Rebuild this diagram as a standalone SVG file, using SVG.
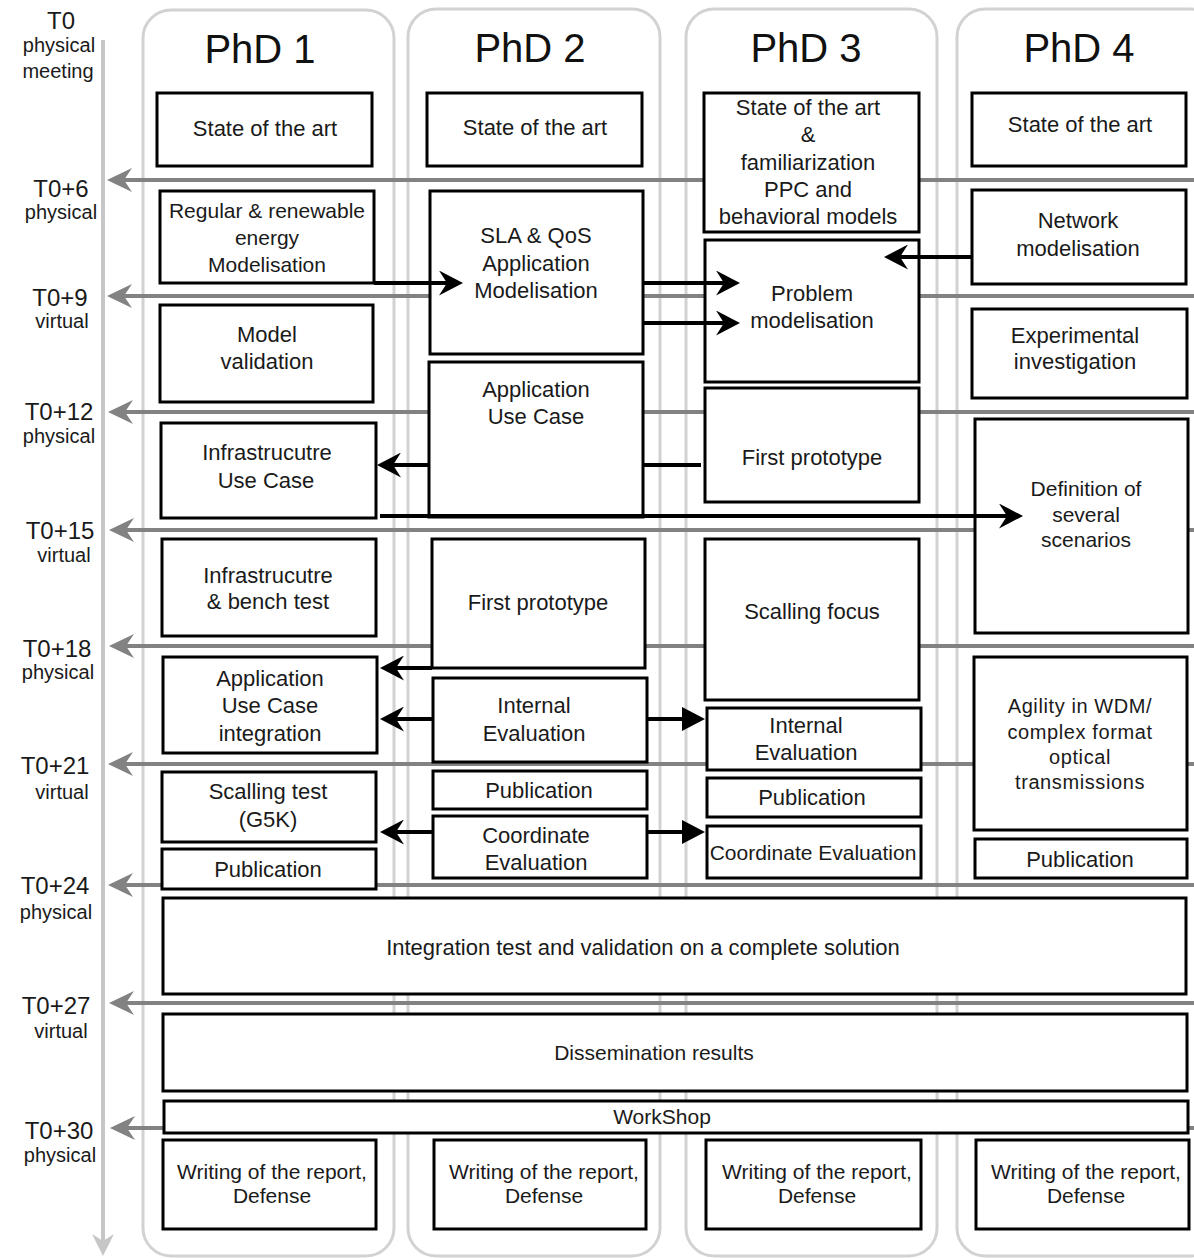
<svg xmlns="http://www.w3.org/2000/svg" width="1194" height="1258" viewBox="0 0 1194 1258">
<defs>
<style>
.col{fill:none;stroke:#d2d2d2;stroke-width:3}
.box{fill:#fff;stroke:#000;stroke-width:3}
.gl{fill:none;stroke:#828282;stroke-width:4}
.tlv{fill:none;stroke:#c6c6c6;stroke-width:4}
.bl{fill:none;stroke:#000;stroke-width:4}
text{font-family:"Liberation Sans",Arial,sans-serif;fill:#1a1a1a;text-anchor:middle}
.t{font-size:22px}
.ts{font-size:21px}
.hv{font-size:21px}
.ag{font-size:20px;letter-spacing:0.6px}
.h{font-size:40px;fill:#111}
.lt{font-size:24px}
.ls{font-size:20px}
</style>
<marker id="mg" markerUnits="userSpaceOnUse" markerWidth="25" markerHeight="24" viewBox="0 0 25 24" refX="15" refY="12" orient="auto"><path d="M0,0 L25,12 L0,24 L8,12 Z" fill="#828282"/></marker>
<marker id="ml" markerUnits="userSpaceOnUse" markerWidth="22" markerHeight="22" viewBox="0 0 22 22" refX="12" refY="11" orient="auto"><path d="M0,0 L22,11 L0,22 L7,11 Z" fill="#c6c6c6"/></marker>
<marker id="mb" markerUnits="userSpaceOnUse" markerWidth="24" markerHeight="25" viewBox="0 0 24 25" refX="14" refY="12.5" orient="auto"><path d="M0,0 L24,12.5 L0,25 L8,12.5 Z" fill="#000"/></marker>
<marker id="mk" markerUnits="userSpaceOnUse" markerWidth="23" markerHeight="24" viewBox="0 0 23 24" refX="13" refY="12" orient="auto"><path d="M0,0 L23,12 L0,24 Z" fill="#000"/></marker>
</defs>
<rect width="1194" height="1258" fill="#fff"/>

<g id="columns">
<rect class="col" x="143" y="10" width="251" height="1246" rx="28"/>
<rect class="col" x="408" y="9" width="252" height="1247" rx="28"/>
<rect class="col" x="686" y="9" width="251" height="1247" rx="28"/>
<rect class="col" x="957" y="9" width="262" height="1247" rx="28"/>
<text class="h" x="260" y="63">PhD 1</text>
<text class="h" x="530" y="62">PhD 2</text>
<text class="h" x="806" y="62">PhD 3</text>
<text class="h" x="1079" y="62">PhD 4</text>
</g>

<g id="timeline">
<path class="tlv" d="M103,40 V1246" marker-end="url(#ml)"/>
<text class="lt" x="61" y="29">T0</text>
<text class="ls" x="59" y="52">physical</text>
<text class="ls" x="58" y="78">meeting</text>
<text class="lt" x="61" y="197">T0+6</text>
<text class="ls" x="61" y="219">physical</text>
<text class="lt" x="60" y="306">T0+9</text>
<text class="ls" x="62" y="328">virtual</text>
<text class="lt" x="59" y="420">T0+12</text>
<text class="ls" x="59" y="443">physical</text>
<text class="lt" x="60" y="539">T0+15</text>
<text class="ls" x="64" y="562">virtual</text>
<text class="lt" x="57" y="657">T0+18</text>
<text class="ls" x="58" y="679">physical</text>
<text class="lt" x="55" y="774">T0+21</text>
<text class="ls" x="62" y="799">virtual</text>
<text class="lt" x="55" y="894">T0+24</text>
<text class="ls" x="56" y="919">physical</text>
<text class="lt" x="56" y="1014">T0+27</text>
<text class="ls" x="61" y="1038">virtual</text>
<text class="lt" x="59" y="1139">T0+30</text>
<text class="ls" x="60" y="1162">physical</text>
</g>

<g id="meetings">
<path class="gl" d="M1194,180 H117" marker-end="url(#mg)"/>
<path class="gl" d="M1194,296 H117" marker-end="url(#mg)"/>
<path class="gl" d="M1194,412 H118" marker-end="url(#mg)"/>
<path class="gl" d="M1194,530 H119" marker-end="url(#mg)"/>
<path class="gl" d="M1194,646 H119" marker-end="url(#mg)"/>
<path class="gl" d="M1194,764 H118" marker-end="url(#mg)"/>
<path class="gl" d="M1194,885 H118" marker-end="url(#mg)"/>
<path class="gl" d="M1194,1003 H119" marker-end="url(#mg)"/>
<path class="gl" d="M1194,1128 H120" marker-end="url(#mg)"/>
</g>

<g id="phd1-sota"><rect class="box" x="157" y="93" width="215" height="73"/><text class="t" x="265" y="136">State of the art</text></g>
<g id="phd1-energy"><rect class="box" x="160" y="191" width="214" height="92"/><text class="ts" x="267"><tspan x="267" y="218">Regular &amp; renewable</tspan><tspan x="267" y="245">energy</tspan><tspan x="267" y="272">Modelisation</tspan></text></g>
<g id="phd1-validation"><rect class="box" x="160" y="305" width="213" height="97"/><text class="t"><tspan x="267" y="342">Model</tspan><tspan x="267" y="369">validation</tspan></text></g>
<g id="phd1-infra-usecase"><rect class="box" x="161" y="423" width="215" height="95"/><text class="t"><tspan x="267" y="460">Infrastrucutre</tspan><tspan x="266" y="488">Use Case</tspan></text></g>
<g id="phd1-bench"><rect class="box" x="162" y="539" width="214" height="97"/><text class="t"><tspan x="268" y="583">Infrastrucutre</tspan><tspan x="268" y="609">&amp; bench test</tspan></text></g>
<g id="phd1-integration"><rect class="box" x="163" y="657" width="214" height="96"/><text class="t"><tspan x="270" y="686">Application</tspan><tspan x="270" y="713">Use Case</tspan><tspan x="270" y="741">integration</tspan></text></g>
<g id="phd1-scaling"><rect class="box" x="162" y="772" width="214" height="70"/><text class="t"><tspan x="268" y="799">Scalling test</tspan><tspan x="268" y="827">(G5K)</tspan></text></g>
<g id="phd1-pub"><rect class="box" x="162" y="849" width="214" height="40"/><text class="t" x="268" y="877">Publication</text></g>

<g id="phd2-sota"><rect class="box" x="427" y="93" width="215" height="73"/><text class="t" x="535" y="135">State of the art</text></g>
<g id="phd2-sla"><rect class="box" x="430" y="191" width="213" height="163"/><text class="t"><tspan x="536" y="243">SLA &amp; QoS</tspan><tspan x="536" y="271">Application</tspan><tspan x="536" y="298">Modelisation</tspan></text></g>
<g id="phd2-usecase"><rect class="box" x="429" y="362" width="214" height="155"/><text class="t"><tspan x="536" y="397">Application</tspan><tspan x="536" y="424">Use Case</tspan></text></g>
<g id="phd2-proto"><rect class="box" x="432" y="539" width="213" height="129"/><text class="t" x="538" y="610">First prototype</text></g>
<g id="phd2-internal"><rect class="box" x="433" y="678" width="214" height="84"/><text class="t"><tspan x="534" y="713">Internal</tspan><tspan x="534" y="741">Evaluation</tspan></text></g>
<g id="phd2-pub"><rect class="box" x="433" y="771" width="214" height="38"/><text class="t" x="539" y="798">Publication</text></g>
<g id="phd2-coord"><rect class="box" x="433" y="816" width="214" height="62"/><text class="t"><tspan x="536" y="843">Coordinate</tspan><tspan x="536" y="870">Evaluation</tspan></text></g>

<g id="phd3-sota"><rect class="box" x="704" y="93" width="215" height="139"/><text class="t"><tspan x="808" y="115">State of the art</tspan><tspan x="808" y="142">&amp;</tspan><tspan x="808" y="170">familiarization</tspan><tspan x="808" y="197">PPC and</tspan><tspan x="808" y="224">behavioral models</tspan></text></g>
<g id="phd3-problem"><rect class="box" x="705" y="240" width="214" height="142"/><text class="t"><tspan x="812" y="301">Problem</tspan><tspan x="812" y="328">modelisation</tspan></text></g>
<g id="phd3-proto"><rect class="box" x="705" y="388" width="214" height="114"/><text class="t" x="812" y="465">First prototype</text></g>
<g id="phd3-scaling"><rect class="box" x="705" y="539" width="214" height="161"/><text class="t" x="812" y="619">Scalling focus</text></g>
<g id="phd3-internal"><rect class="box" x="707" y="708" width="214" height="62"/><text class="t"><tspan x="806" y="733">Internal</tspan><tspan x="806" y="760">Evaluation</tspan></text></g>
<g id="phd3-pub"><rect class="box" x="707" y="778" width="214" height="39"/><text class="t" x="812" y="805">Publication</text></g>
<g id="phd3-coord"><rect class="box" x="707" y="826" width="214" height="52"/><text class="ts" x="813" y="860">Coordinate Evaluation</text></g>

<g id="phd4-sota"><rect class="box" x="972" y="93" width="214" height="73"/><text class="t" x="1080" y="132">State of the art</text></g>
<g id="phd4-network"><rect class="box" x="972" y="190" width="214" height="94"/><text class="t"><tspan x="1078" y="228">Network</tspan><tspan x="1078" y="256">modelisation</tspan></text></g>
<g id="phd4-experimental"><rect class="box" x="972" y="309" width="215" height="89"/><text class="t"><tspan x="1075" y="343">Experimental</tspan><tspan x="1075" y="369">investigation</tspan></text></g>
<g id="phd4-scenarios"><rect class="box" x="975" y="419" width="213" height="214"/><text class="ts"><tspan x="1086" y="496">Definition of</tspan><tspan x="1086" y="522">several</tspan><tspan x="1086" y="547">scenarios</tspan></text></g>
<g id="phd4-agility"><rect class="box" x="974" y="657" width="213" height="173"/><text class="ag"><tspan x="1080" y="713">Agility in WDM/</tspan><tspan x="1080" y="739">complex format</tspan><tspan x="1080" y="764">optical</tspan><tspan x="1080" y="789">transmissions</tspan></text></g>
<g id="phd4-pub"><rect class="box" x="975" y="839" width="212" height="39"/><text class="t" x="1080" y="867">Publication</text></g>

<g id="integration"><rect class="box" x="163" y="898" width="1023" height="96"/><text class="t" x="643" y="955">Integration test and validation on a complete solution</text></g>
<g id="dissemination"><rect class="box" x="163" y="1014" width="1024" height="77"/><text class="hv" x="654" y="1060">Dissemination results</text></g>
<g id="workshop"><rect class="box" x="164" y="1101" width="1024" height="32"/><text class="hv" x="662" y="1124">WorkShop</text></g>

<g id="phd1-report"><rect class="box" x="163" y="1140" width="213" height="89"/><text class="hv"><tspan x="272" y="1179">Writing of the report,</tspan><tspan x="272" y="1203">Defense</tspan></text></g>
<g id="phd2-report"><rect class="box" x="434" y="1140" width="212" height="89"/><text class="hv"><tspan x="544" y="1179">Writing of the report,</tspan><tspan x="544" y="1203">Defense</tspan></text></g>
<g id="phd3-report"><rect class="box" x="706" y="1140" width="215" height="89"/><text class="hv"><tspan x="817" y="1179">Writing of the report,</tspan><tspan x="817" y="1203">Defense</tspan></text></g>
<g id="phd4-report"><rect class="box" x="976" y="1140" width="213" height="89"/><text class="hv"><tspan x="1086" y="1179">Writing of the report,</tspan><tspan x="1086" y="1203">Defense</tspan></text></g>

<g id="connectors">
<path class="bl" d="M374,283 H453" marker-end="url(#mb)"/>
<path class="bl" d="M643,283 H730" marker-end="url(#mb)"/>
<path class="bl" d="M643,323 H730" marker-end="url(#mb)"/>
<path class="bl" d="M972,257 H894" marker-end="url(#mb)"/>
<path class="bl" d="M429,465 H387" marker-end="url(#mb)"/>
<path class="bl" d="M643,465 H701"/>
<path class="bl" d="M380,516 H1013" marker-end="url(#mb)"/>
<path class="bl" d="M432,668 H390" marker-end="url(#mb)"/>
<path class="bl" d="M433,719 H390" marker-end="url(#mb)"/>
<path class="bl" d="M647,719 H695" marker-end="url(#mk)"/>
<path class="bl" d="M433,832 H390" marker-end="url(#mb)"/>
<path class="bl" d="M647,832 H695" marker-end="url(#mk)"/>
</g>
</svg>
